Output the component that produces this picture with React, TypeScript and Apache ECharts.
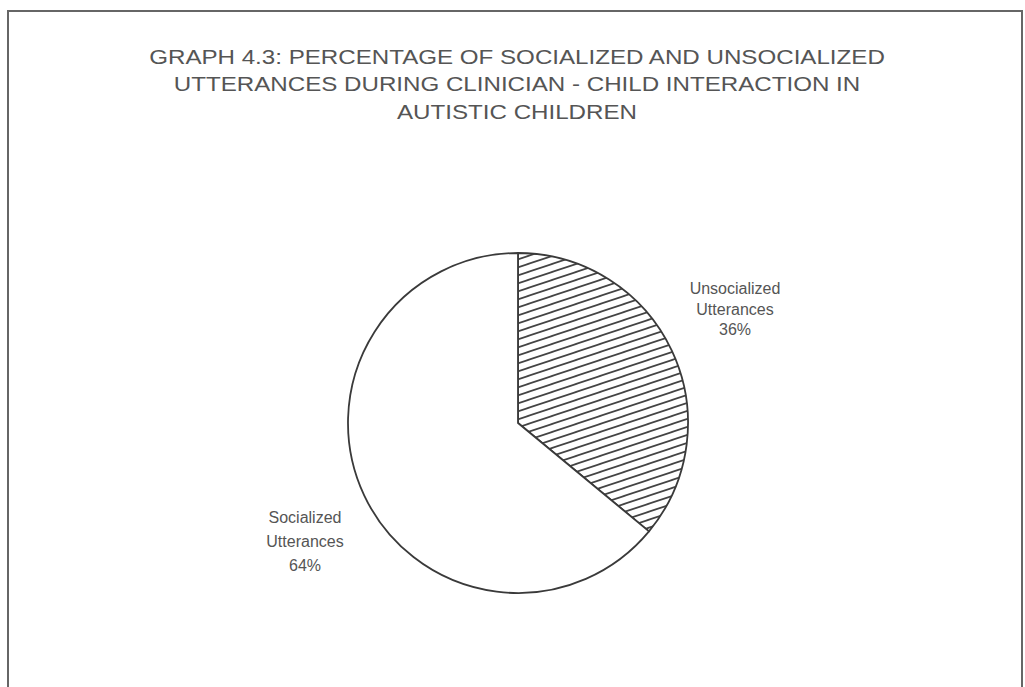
import React, { useEffect, useRef } from "react";
import * as echarts from "echarts";

const titleLines = [
  "GRAPH 4.3: PERCENTAGE OF SOCIALIZED AND UNSOCIALIZED",
  "UTTERANCES DURING CLINICIAN - CHILD INTERACTION IN",
  "AUTISTIC CHILDREN",
];
const categories = ["Unsocialized\nUtterances", "Socialized\nUtterances"];
const values = [36, 64];

function makeHatch(): HTMLCanvasElement {
  const w = 24;
  const h = 8;
  const c = document.createElement("canvas");
  c.width = w;
  c.height = h;
  const ctx = c.getContext("2d")!;
  ctx.fillStyle = "#ffffff";
  ctx.fillRect(0, 0, w, h);
  ctx.strokeStyle = "#444";
  ctx.lineWidth = 1.7;
  for (let k = -1; k <= 2; k++) {
    ctx.beginPath();
    ctx.moveTo(-w, h + h * k + h);
    ctx.lineTo(2 * w, h * k - h);
    ctx.stroke();
  }
  return c;
}

export default function App() {
  const ref = useRef<HTMLDivElement>(null);
  useEffect(() => {
    document.body.style.margin = "0";
    const chart = echarts.init(ref.current!, null, { renderer: "svg" });
    const labelPos = [
      { x: 735, y: 309, lh: 20.5 },
      { x: 305, y: 541, lh: 24 },
    ];
    const hatch = makeHatch();
    chart.setOption({
      animation: false,
      backgroundColor: "#ffffff",
      graphic: [
        {
          type: "polyline",
          shape: { points: [[8, 687], [8, 11], [1022, 11], [1022, 687]] },
          style: { stroke: "#666", lineWidth: 2, fill: null },
          silent: true,
        },
        ...titleLines.map((t, i) => ({
          type: "text",
          x: 517,
          y: 57 + i * 27.5,
          scaleX: 1.15,
          style: {
            text: t,
            fill: "#555",
            font: "21px 'Liberation Sans', Arial, sans-serif",
            align: "center",
            verticalAlign: "middle",
          },
        })),
      ],
      series: [
        {
          type: "pie",
          center: [518, 423],
          radius: 170,
          startAngle: 90,
          clockwise: true,
          label: {
            show: true,
            position: "outside",
            formatter: (p: any) => `${p.name}\n${p.value}%`,
            color: "#555",
            fontFamily: "'Liberation Sans', Arial, sans-serif",
            fontSize: 16,
            align: "center",
          },
          labelLine: { show: false },
          labelLayout: (params: any) => ({
            x: labelPos[params.dataIndex].x,
            y: labelPos[params.dataIndex].y,
            align: "center",
            verticalAlign: "middle",
          }),
          emphasis: { disabled: true },
          data: categories.map((c, i) => ({
            name: c,
            value: values[i],
            label: { lineHeight: labelPos[i].lh },
            itemStyle:
              i === 0
                ? {
                    color: { image: hatch, repeat: "repeat" },
                    borderColor: "#3a3a3a",
                    borderWidth: 1.8,
                  }
                : { color: "#ffffff", borderColor: "#3a3a3a", borderWidth: 1.8 },
          })),
        },
      ],
    });
    return () => chart.dispose();
  }, []);
  return <div ref={ref} style={{ width: 1025, height: 687 }} />;
}
